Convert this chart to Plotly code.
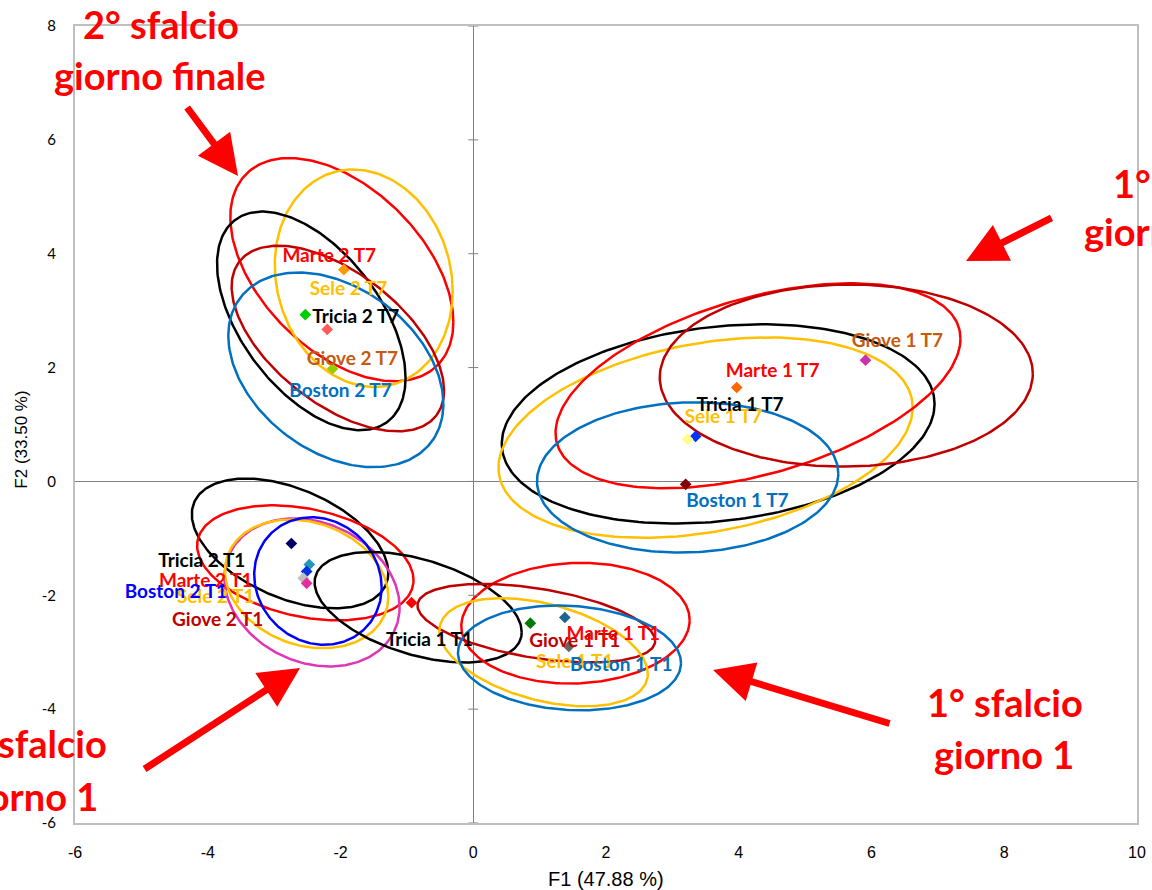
import numpy as np
import plotly.graph_objects as go

# ---- confidence ellipses: centre, half-extent on F1 / F2, correlation ----
ell_cx = [-1.98, -1.65, -2.44, -2.04, -2.07,
          3.69, 3.50, 4.29, 5.62, 3.23,
          -2.76, -2.53, -2.43, -2.51, -2.34,
          -0.83, 1.54, 0.95, 1.06, 1.45]
ell_cy = [3.72, 3.57, 2.82, 2.51, 1.96,
          1.01, 0.77, 1.68, 1.86, 0.07,
          -1.09, -1.43, -1.95, -1.80, -1.75,
          -2.21, -2.49, -2.49, -3.00, -3.10]
ell_sx = [1.68, 1.34, 1.42, 1.60, 1.62,
          3.26, 3.12, 3.05, 2.81, 2.27,
          1.48, 1.63, 1.32, 1.23, 0.96,
          1.56, 1.72, 1.79, 1.57, 1.68]
ell_sy = [1.96, 1.91, 1.92, 1.63, 1.71,
          1.75, 1.76, 1.80, 1.60, 1.32,
          1.14, 1.01, 1.30, 1.13, 1.12,
          0.97, 1.06, 0.69, 0.95, 0.92]
ell_r = [-0.47, -0.12, -0.52, -0.56, -0.35,
         0.20, 0.30, 0.46, 0.02, 0.05,
         -0.45, -0.30, -0.20, -0.20, -0.10,
         -0.45, 0.05, -0.45, -0.40, -0.10]
ell_color = ["#FF0000", "#FFC000", "#000000", "#C00000", "#0070C0",
             "#000000", "#FFC000", "#FF0000", "#C00000", "#0070C0",
             "#000000", "#FF0000", "#E035B4", "#FFC000", "#0000FF",
             "#000000", "#FF0000", "#C00000", "#FFC000", "#0070C0"]

# ---- group centroids ----
pt_x = [-1.95, -2.53, -2.20, -2.12,
        5.91, 3.97, 3.35, 3.23, 3.20,
        -2.74, -2.47, -2.51, -2.56, -2.51, -0.93,
        0.86, 1.38, 1.44]
pt_y = [3.72, 2.93, 2.67, 1.98,
        2.13, 1.65, 0.79, 0.74, -0.05,
        -1.09, -1.46, -1.58, -1.70, -1.79, -2.13,
        -2.49, -2.39, -2.90]
pt_color = ["#FF9900", "#00CC00", "#FF5B5B", "#99CC00",
            "#CC33AA", "#FF6600", "#0033FF", "#FFFF88", "#800000",
            "#000066", "#2299BB", "#0033DD", "#BFBFBF", "#E0309E", "#FF0000",
            "#007A00", "#1F6391", "#666666"]

# ---- point labels ----
lab_text = ["Sele 2 T7", "Giove 2 T7", "Tricia 2 T7", "Marte 2 T7", "Boston 2 T7",
            "Sele 1 T7", "Giove 1 T7", "Tricia 1 T7", "Marte 1 T7", "Boston 1 T7",
            "Sele 2 T1", "Giove 2 T1", "Tricia 2 T1", "Marte 2 T1", "Boston 2 T1",
            "Sele 1 T1", "Giove 1 T1", "Tricia 1 T1", "Marte 1 T1", "Boston 1 T1"]
lab_x = [-1.88, -1.82, -1.77, -2.17, -2.00,
         3.77, 6.39, 4.02, 4.51, 3.98,
         -3.88, -3.85, -4.09, -4.03, -4.48,
         1.53, 1.53, -0.66, 2.11, 2.23]
lab_y = [3.36, 2.13, 2.86, 3.93, 1.56,
         1.11, 2.44, 1.32, 1.91, -0.37,
         -2.05, -2.46, -1.42, -1.77, -1.97,
         -3.20, -2.83, -2.80, -2.71, -3.24]
lab_color = ["#FFC000", "#C55A11", "#000000", "#FF0000", "#0070C0",
             "#FFC000", "#C55A11", "#000000", "#FF0000", "#0070C0",
             "#FFC000", "#C00000", "#000000", "#FF0000", "#0000FF",
             "#FFC000", "#C00000", "#000000", "#FF0000", "#0070C0"]

x_ticks = [-6, -4, -2, 0, 2, 4, 6, 8, 10]
y_ticks = [-6, -4, -2, 0, 2, 4, 6, 8]

SANS = "Liberation Sans, Arial, Helvetica, sans-serif"
NARROW = "Liberation Sans Narrow, Arial Narrow, Liberation Sans, Arial, sans-serif"

fig = go.Figure()

t = np.linspace(0, 2 * np.pi, 240)
for cx, cy, sx, sy, r, col in zip(ell_cx, ell_cy, ell_sx, ell_sy, ell_r, ell_color):
    ex = cx + sx * np.cos(t)
    ey = cy + sy * (r * np.cos(t) + np.sqrt(1 - r * r) * np.sin(t))
    fig.add_trace(go.Scatter(x=ex, y=ey, mode="lines",
                             line=dict(color=col, width=2.5),
                             hoverinfo="skip", showlegend=False))

fig.add_trace(go.Scatter(x=pt_x, y=pt_y, mode="markers",
                         marker=dict(symbol="diamond", size=9, color=pt_color),
                         hoverinfo="skip", showlegend=False))

fig.add_trace(go.Scatter(x=lab_x, y=lab_y, mode="text",
                         text=["<b>" + s + "</b>" for s in lab_text],
                         textfont=dict(family="Lato, sans-serif", size=19, color=lab_color),
                         hoverinfo="skip", showlegend=False))

# small tick marks on the vertical axis through the origin
for v in y_ticks:
    fig.add_shape(type="line", xref="x", yref="y", x0=-0.075, x1=0.075, y0=v, y1=v,
                  line=dict(color="#808080", width=1))

big = dict(family="Lato, sans-serif", size=38, color="#FF0000")
notes = [
    ("2° sfalcio", 0.081, 1.003), ("giorno finale", 0.080, 0.938),
    ("1° sfalcio", 1.0508, 0.803), ("giorno finale", 1.0499, 0.7428),
    ("1° sfalcio", 0.8757, 0.1518), ("giorno 1", 0.8748, 0.0866),
    ("2° sfalcio", -0.0433, 0.1004), ("giorno 1", -0.0443, 0.0339),
]
for txt, xp, yp in notes:
    fig.add_annotation(text="<b>" + txt + "</b>", xref="paper", yref="paper",
                       x=xp, y=yp, xanchor="center", yanchor="middle",
                       showarrow=False, font=big)

arrows = [(0.1535, 0.8118, -52, -70), (0.8390, 0.7051, 87, -44),
          (0.6008, 0.1920, 178, 54), (0.2119, 0.1945, -157, 102)]
for xp, yp, ax, ay in arrows:
    fig.add_annotation(text="", xref="paper", yref="paper", x=xp, y=yp,
                       ax=ax, ay=ay, showarrow=True, arrowhead=2,
                       arrowsize=1.15, arrowwidth=7, arrowcolor="#FF0000",
                       standoff=0)

fig.add_annotation(text="F1 (47.88 %)", xref="paper", yref="paper",
                   x=0.5, y=-0.0703, xanchor="center", yanchor="middle",
                   showarrow=False,
                   font=dict(family=NARROW, size=20, color="#000000"))
fig.add_annotation(text="F2 (33.50 %)", xref="paper", yref="paper",
                   x=-0.0499, y=0.481, xanchor="center", yanchor="middle",
                   textangle=-90, showarrow=False,
                   font=dict(family=SANS, size=17, color="#000000"))

fig.update_xaxes(range=[-6, 10], tickvals=x_ticks, ticktext=[str(v) for v in x_ticks],
                 showgrid=False, zeroline=True, zerolinecolor="#808080", zerolinewidth=1,
                 showline=True, linecolor="#BFBFBF", linewidth=2, mirror=True,
                 ticks="", ticklabelstandoff=14,
                 tickfont=dict(family=NARROW, size=16, color="#000000"))
fig.update_yaxes(range=[-6, 8], tickvals=y_ticks, ticktext=[str(v) for v in y_ticks],
                 showgrid=False, zeroline=True, zerolinecolor="#808080", zerolinewidth=1,
                 showline=True, linecolor="#BFBFBF", linewidth=2, mirror=True,
                 ticks="", ticklabelstandoff=14,
                 tickfont=dict(family="Lato, sans-serif", size=15, color="#000000"))

fig.update_layout(width=1152, height=890,
                  margin=dict(l=75, r=15, t=26, b=67, autoexpand=False),
                  plot_bgcolor="#FFFFFF", paper_bgcolor="#FFFFFF",
                  showlegend=False)

fig.write_html("out.html")
